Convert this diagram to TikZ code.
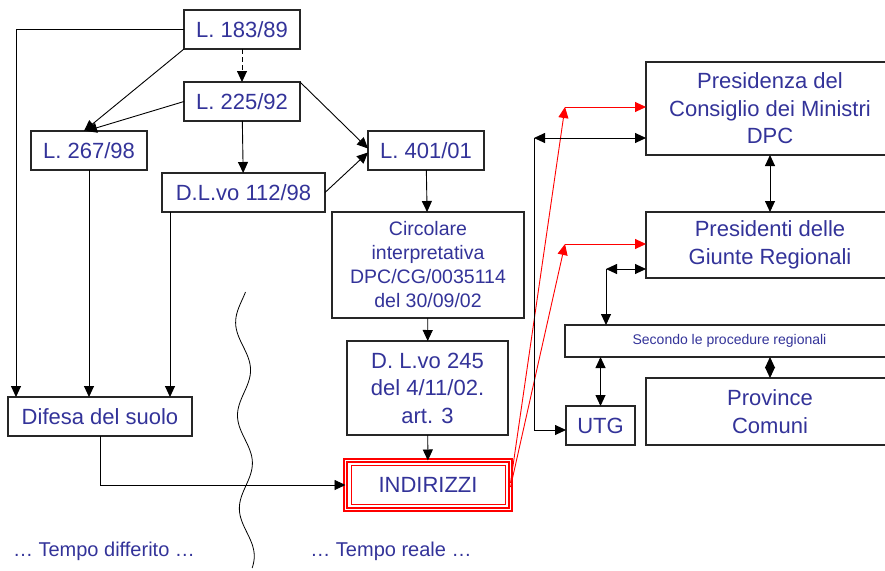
\documentclass[tikz,border=0pt]{standalone}
\usepackage{fontspec}
\setmainfont{Liberation Sans}
\usetikzlibrary{arrows.meta}
\definecolor{ink}{RGB}{51,51,153}

\begin{document}
\begin{tikzpicture}[x=1pt, y=-1pt,
    box/.style={rectangle, draw=black!85, line width=1.1pt, fill=white, text=ink, inner sep=0pt, outer sep=0pt, align=center, font=\fontsize{22}{27.5}\selectfont},
    arrow/.style={-{Triangle[length=11pt,width=10pt]}, line width=0.9pt},
    dblarrow/.style={{Triangle[length=11pt,width=10pt]}-{Triangle[length=11pt,width=10pt]}, line width=0.9pt},
    redarrow/.style={-{Triangle[length=11pt,width=10pt]}, line width=0.9pt, red},
    lbl/.style={text=ink, font=\fontsize{20}{24}\selectfont},
]
\useasboundingbox (0,0) rectangle (885,570);

% Laws
\node[box, minimum width=116, minimum height=39] (l183) at (242, 29.5) {L. 183/89};
\node[box, minimum width=116, minimum height=39] (l225) at (242, 101.5) {L. 225/92};
\node[box, minimum width=116, minimum height=39] (l267) at (89, 150.5) {L. 267/98};
\node[box, minimum width=163, minimum height=39] (dlvo112) at (243.5, 192.5) {D.L.vo 112/98};
\node[box, minimum width=116, minimum height=39] (l401) at (426, 150.5) {L. 401/01};
\node[box, minimum width=192, minimum height=106, font=\fontsize{19.5}{24}\selectfont] (circ) at (428, 265) {Circolare\\interpretativa\\DPC/CG/0035114\\del 30/09/02};
\node[box, minimum width=161, minimum height=94] (dlvo245) at (427.5, 388) {D. L.vo 245\\del 4/11/02.\\art. 3};
\node[box, minimum width=184, minimum height=39] (difesa) at (100, 416.5) {Difesa del suolo};

% Output
\node[box, draw=red, line width=2pt, double=white, double distance=1.2pt, minimum width=165, minimum height=49] (indir) at (428, 485) {INDIRIZZI};
\draw[red, line width=1pt] ([shift={(5.5pt,-5pt)}]indir.north west) rectangle ([shift={(-5.5pt,5pt)}]indir.south east);

% Institutions
\node[box, minimum width=248, minimum height=93] (pres) at (770, 108.5) {Presidenza del\\Consiglio dei Ministri\\DPC};
\node[box, minimum width=248, minimum height=66] (presreg) at (770, 245) {Presidenti delle\\Giunte Regionali};
\node[box, minimum width=329, minimum height=32, font=\fontsize{14}{17}\selectfont] (secondo) at (729.5, 341) {Secondo le procedure regionali};
\node[box, minimum width=248, minimum height=67] (prov) at (770, 411.5) {Province\\Comuni};
\node[box, minimum width=69, minimum height=39] (utg) at (600.5, 425.5) {UTG};

% Helper points
\coordinate (dtap) at ([xshift=8pt]dlvo112.south west);
\coordinate (r1) at (565, 107);
\coordinate (r2) at (565, 244);
\coordinate (b1) at (534, 138);
\coordinate (b2) at (606, 269);

% Arrows
\draw[arrow] (l183.west) -| ([xshift=8pt]difesa.north west);
\draw[arrow, dash pattern=on 5pt off 3pt] (l183) -- (l225);
\draw[arrow] (l183.south west) -- ([xshift=-5pt]l267.north);
\draw[arrow] (l225.west) -- ([xshift=-3pt]l267.north);
\draw[arrow] (l225) -- (dlvo112);
\draw[arrow] (l225.north east) -- ([yshift=2pt]l401.west);
\draw[arrow] (dlvo112.east) -- ([yshift=-2pt]l401.west);
\draw[arrow] (l401) -- (circ);
\draw[arrow] (circ) -- (dlvo245);
\draw[arrow] (dlvo245) -- (indir);
\draw[arrow] (l267) -- (l267 |- difesa.north);
\draw[arrow] (dtap) -- (dtap |- difesa.north);
\draw[arrow] (difesa.south) |- (indir.west);

% Red links
\draw[redarrow] ([yshift=2pt]indir.east) -- (r1);
\draw[redarrow] (r1) -- (r1 -| pres.west);
\draw[redarrow] ([yshift=-2pt]indir.east) -- (r2);
\draw[redarrow] (r2) -- (r2 -| presreg.west);

% Black links
\draw[dblarrow] (b1) -- (b1 -| pres.west);
\draw[arrow] (b1) |- ([yshift=-4.5pt]utg.west);
\draw[dblarrow] (pres) -- (presreg);
\draw[dblarrow] (b2) -- (b2 -| presreg.west);
\draw[arrow] (b2) -- (b2 |- secondo.north);
\draw[dblarrow] (utg.north) -- (utg.north |- secondo.south);
\draw[dblarrow] (secondo.south -| prov.north) -- (prov.north);

% Time split
\draw[line width=0.8pt] plot[domain=292:568, samples=90, smooth] ({242 + 0.02*(\x-292) - 7*cos(3.871*(\x-323))}, \x);
\node[lbl] (tdiff) at (104, 551) {… Tempo differito …};
\node[lbl] (treal) at (391, 551) {… Tempo reale …};
\end{tikzpicture}
\end{document}
